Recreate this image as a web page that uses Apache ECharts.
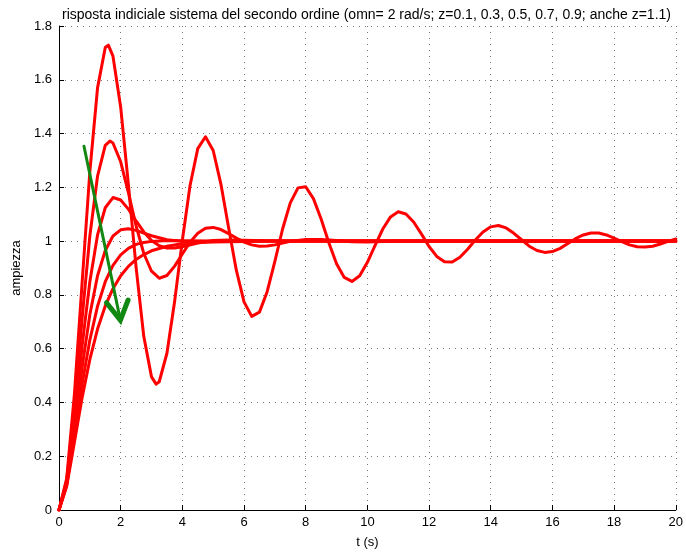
<!DOCTYPE html>
<html>
<head>
<meta charset="utf-8">
<script src="https://cdn.jsdelivr.net/npm/echarts@6/dist/echarts.min.js"></script>
<style>html,body{margin:0;padding:0;background:#fff;}#c{width:686px;height:554px;}</style>
</head>
<body>
<div id="c"></div>
<script>
const titleText = 'risposta indiciale sistema del secondo ordine (omn= 2 rad/s; z=0.1, 0.3, 0.5, 0.7, 0.9; anche z=1.1)';
const xTicks = [0, 2, 4, 6, 8, 10, 12, 14, 16, 18, 20];
const yTicks = [0, 0.2, 0.4, 0.6, 0.8, 1, 1.2, 1.4, 1.6, 1.8];

// step responses [t, y]
const z01 = [[0,0],[0.25,0.118],[0.5,0.431],[0.75,0.846],[1,1.258],[1.25,1.570],[1.5,1.720],[1.6,1.729],[1.75,1.688],[2,1.498],[2.25,1.211],[2.5,0.902],[2.75,0.645],[3,0.495],[3.15,0.468],[3.25,0.477],[3.5,0.583],[3.75,0.776],[4,1.003],[4.25,1.207],[4.5,1.344],[4.75,1.388],[5,1.337],[5.25,1.212],[5.5,1.050],[5.75,0.892],[6,0.774],[6.25,0.720],[6.5,0.736],[6.75,0.812],[7,0.925],[7.25,1.045],[7.5,1.142],[7.75,1.198],[8,1.202],[8.25,1.158],[8.5,1.082],[8.75,0.994],[9,0.916],[9.25,0.865],[9.5,0.850],[9.75,0.871],[10,0.921],[10.25,0.984],[10.5,1.045],[10.75,1.090],[11,1.109],[11.25,1.101],[11.5,1.071],[11.75,1.027],[12,0.980],[12.25,0.943],[12.5,0.923],[12.75,0.922],[13,0.940],[13.25,0.970],[13.5,1.004],[13.75,1.034],[14,1.053],[14.25,1.058],[14.5,1.049],[14.75,1.029],[15,1.005],[15.25,0.981],[15.5,0.965],[15.75,0.958],[16,0.961],[16.25,0.973],[16.5,0.991],[16.75,1.009],[17,1.023],[17.25,1.030],[17.5,1.030],[17.75,1.023],[18,1.011],[18.25,0.998],[18.5,0.986],[18.75,0.979],[19,0.978],[19.25,0.981],[19.5,0.989],[19.75,0.999],[20,1.008]];
const z03 = [[0,0],[0.25,0.111],[0.5,0.381],[0.75,0.713],[1,1.019],[1.25,1.242],[1.5,1.356],[1.65,1.372],[1.75,1.365],[2,1.295],[2.25,1.180],[2.5,1.057],[2.75,0.954],[3,0.888],[3.25,0.862],[3.5,0.872],[3.75,0.907],[4,0.952],[4.25,0.996],[4.5,1.029],[4.75,1.048],[5,1.051],[5.25,1.043],[5.5,1.028],[5.75,1.011],[6,0.996],[6.25,0.986],[6.5,0.981],[6.75,0.982],[7,0.986],[7.5,0.999],[8,1.006],[8.5,1.006],[9,1.002],[9.5,0.998],[10,0.997],[11,1.0],[12,1.0],[14,1.0],[16,1.0],[18,1.0],[20,1.0]];
const z05 = [[0,0],[0.25,0.104],[0.5,0.340],[0.75,0.611],[1,0.849],[1.25,1.023],[1.5,1.124],[1.75,1.162],[2,1.153],[2.25,1.119],[2.5,1.075],[2.75,1.034],[3,1.002],[3.25,0.983],[3.5,0.974],[3.75,0.974],[4,0.979],[4.5,0.993],[5,1.002],[5.5,1.004],[6,1.003],[7,1.0005],[8,1.0],[10,1.0],[20,1.0]];
const z07 = [[0,0],[0.25,0.098],[0.5,0.306],[0.75,0.531],[1,0.726],[1.25,0.871],[1.5,0.965],[1.75,1.019],[2,1.042],[2.25,1.046],[2.5,1.040],[2.75,1.030],[3,1.020],[3.5,1.005],[4,0.999],[4.5,0.998],[5,0.999],[6,1.0],[8,1.0],[20,1.0]];
const z09 = [[0,0],[0.25,0.093],[0.5,0.277],[0.75,0.469],[1,0.632],[1.25,0.758],[1.5,0.849],[1.75,0.910],[2,0.949],[2.25,0.973],[2.5,0.988],[2.75,0.995],[3,0.999],[3.5,1.002],[4,1.001],[5,1.0005],[6,1.0],[20,1.0]];
const z11 = [[0,0],[0.25,0.088],[0.5,0.252],[0.75,0.418],[1,0.560],[1.25,0.673],[1.5,0.759],[1.75,0.823],[2,0.871],[2.25,0.906],[2.5,0.932],[2.75,0.950],[3,0.964],[3.5,0.981],[4,0.990],[4.5,0.995],[5,0.997],[6,0.999],[7,1.0],[20,1.0]];

// green annotation arrow (data coordinates)
const arrowShaft = [[0.81,1.353],[1.99,0.706]];
const arrowHead = [[1.54,0.771],[1.99,0.706],[2.24,0.781]];

const responses = [z01, z03, z05, z07, z09, z11];

const chart = echarts.init(document.getElementById('c'), null, {renderer: 'canvas'});
const FONT = 'Liberation Sans, Arial, Helvetica, sans-serif';

const series = responses.map(d => ({
  type: 'line', data: d, showSymbol: false, smooth: false,
  lineStyle: {color: '#ff0000', width: 3, join: 'round', cap: 'round'},
  animation: false, z: 3
}));
series.push({
  type: 'line', data: arrowShaft, showSymbol: false,
  lineStyle: {color: '#118811', width: 3, cap: 'round'}, animation: false, z: 4
});
series.push({
  type: 'line', data: arrowHead, showSymbol: false,
  lineStyle: {color: '#118811', width: 5, cap: 'round', join: 'miter'}, animation: false, z: 4
});

chart.setOption({
  backgroundColor: '#ffffff',
  animation: false,
  title: {
    text: titleText, left: 57, top: 3,
    textStyle: {fontFamily: FONT, fontSize: 14, fontWeight: 'normal', color: '#000'}
  },
  grid: {left: 59, right: 7, top: 26, bottom: 40, containLabel: false},
  xAxis: {
    type: 'value', min: 0, max: 20, interval: 2,
    name: 't (s)', nameLocation: 'middle', nameGap: 26,
    nameTextStyle: {fontFamily: FONT, fontSize: 13, color: '#000'},
    axisLine: {show: true, onZero: false, lineStyle: {color: '#000', width: 1}},
    axisTick: {show: true, inside: true, length: 5, lineStyle: {color: '#000'}},
    axisLabel: {fontFamily: FONT, fontSize: 13, color: '#000', margin: 6,
      formatter: v => xTicks.includes(v) ? String(v) : ''},
    splitLine: {show: true, lineStyle: {color: '#777', width: 1, type: [1, 5]}}
  },
  yAxis: {
    type: 'value', min: 0, max: 1.8, interval: 0.2,
    name: 'ampiezza', nameLocation: 'middle', nameGap: 31, nameRotate: 90,
    nameTextStyle: {fontFamily: FONT, fontSize: 13, color: '#000'},
    axisLine: {show: true, onZero: false, lineStyle: {color: '#000', width: 1}},
    axisTick: {show: true, inside: true, length: 5, lineStyle: {color: '#000'}},
    axisLabel: {fontFamily: FONT, fontSize: 13, color: '#000', margin: 7,
      formatter: v => { const r = Math.round(v * 10) / 10; return yTicks.includes(r) ? String(r) : ''; }},
    splitLine: {show: true, lineStyle: {color: '#777', width: 1, type: [1, 5]}}
  },
  series: series
});
</script>
</body>
</html>
